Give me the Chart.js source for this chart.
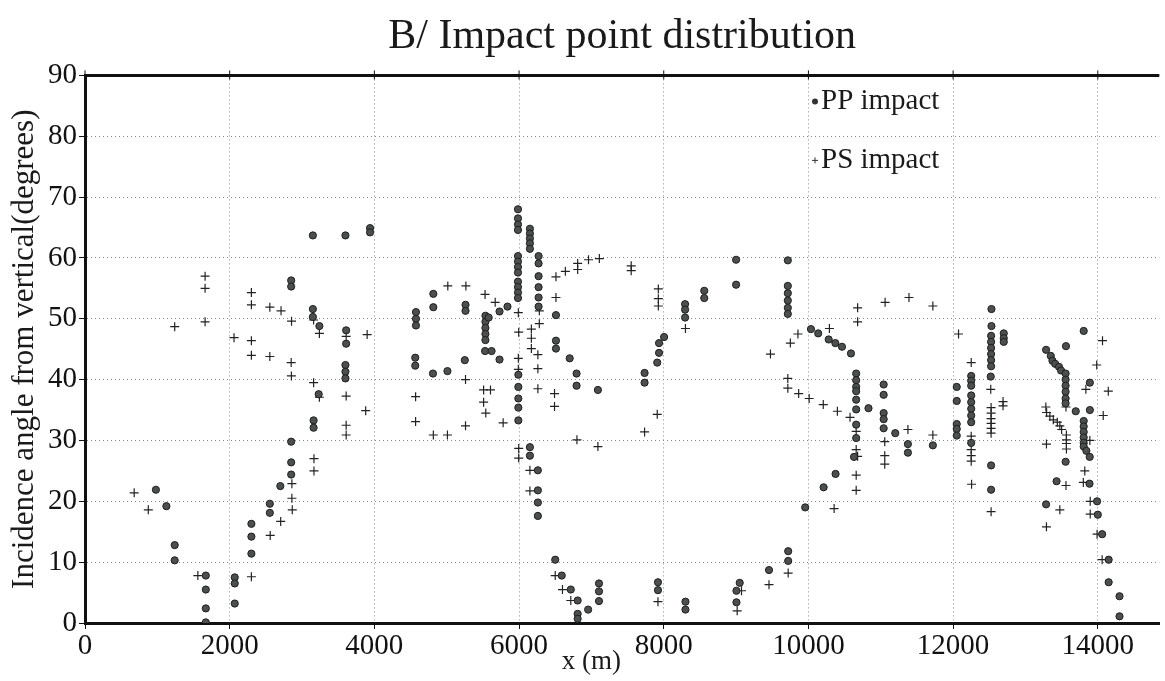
<!DOCTYPE html>
<html lang="en">
<head>
<meta charset="UTF-8">
<title>B/ Impact point distribution</title>
<script src="https://cdn.jsdelivr.net/npm/chart.js"></script>
<style>
    body { margin: 0; background: #fff; }
    #chart { display: block; }
</style>
</head>
<body>
<canvas id="chart" width="1165" height="681"></canvas>
<script>
    // [x (m), incidence angle (deg)]
    const ppImpact = [
        [980, 21.9], [1125, 19.2], [1240, 12.8], [1240, 10.3],
        [1670, 7.8], [1670, 5.5], [1670, 2.4], [1670, 0.1],
        [2070, 7.5], [2070, 6.5], [2070, 3.2],
        [2300, 16.3], [2300, 14.2], [2300, 11.4],
        [2555, 19.6], [2555, 18.1], [2700, 22.5],
        [2850, 29.8], [2850, 26.4], [2850, 24.4], [2850, 56.3], [2850, 55.3],
        [3150, 63.7], [3600, 63.7], [3940, 64.9], [3940, 64.2],
        [3150, 51.6], [3150, 50.3], [3240, 48.8], [3610, 48.1], [3610, 45.9],
        [3600, 42.4], [3600, 41.3], [3600, 40.2], [3230, 37.6], [3160, 33.3], [3160, 32.1],
        [4575, 51.1], [4575, 50.0], [4575, 48.9], [4565, 43.6], [4565, 42.3],
        [4810, 41.0], [4815, 54.1], [4815, 51.9], [5010, 41.4], [5250, 43.2],
        [5260, 52.3], [5260, 51.3],
        [5535, 50.5], [5535, 49.5], [5535, 48.5], [5535, 47.5], [5535, 46.5], [5580, 50.2],
        [5530, 44.7], [5620, 44.7], [5730, 43.3], [5730, 51.2], [5840, 52.0],
        [5985, 68.0], [5985, 66.5], [5985, 65.5], [5985, 64.6],
        [5985, 60.3], [5985, 59.4], [5985, 58.5], [5985, 57.6],
        [5985, 56.1], [5985, 55.2], [5985, 54.3], [5985, 53.4],
        [5990, 40.8], [5990, 38.8], [5990, 36.9], [5990, 35.4], [5990, 33.3],
        [6150, 64.8], [6150, 64.0], [6150, 63.2], [6150, 62.4], [6150, 61.5],
        [6150, 28.9], [6150, 27.5],
        [6270, 60.3], [6270, 59.1], [6270, 57.0], [6270, 55.2], [6270, 53.5], [6270, 52.0],
        [6260, 25.1], [6260, 21.8], [6260, 19.8], [6260, 17.6],
        [6510, 50.6], [6510, 46.4], [6510, 45.1],
        [6500, 10.4], [6590, 7.8], [6715, 5.5], [6810, 3.7], [6810, 1.5], [6810, 0.7],
        [6955, 2.2], [7105, 6.5], [7105, 5.2], [7105, 3.6],
        [6700, 43.5], [6795, 41.0], [6795, 39.0], [7090, 38.3],
        [7735, 41.1], [7735, 39.5], [7910, 42.8], [7935, 44.4], [7935, 46.0], [8005, 47.0],
        [7920, 6.7], [7920, 5.4], [8300, 3.5], [8300, 2.2],
        [8295, 52.4], [8295, 51.5], [8295, 50.2], [8560, 54.6], [8560, 53.4],
        [9000, 59.7], [9000, 55.6],
        [9050, 6.6], [9005, 5.3], [9005, 3.4], [9455, 8.7], [9720, 11.8], [9720, 10.2],
        [9955, 19.0], [10210, 22.3], [10375, 24.5],
        [9715, 59.6], [9715, 55.4], [9715, 54.2], [9715, 53.0], [9715, 51.8], [9715, 50.8],
        [10035, 48.3], [10135, 47.6], [10280, 46.6], [10372, 46.0], [10464, 45.4], [10588, 44.3],
        [10660, 41.0], [10660, 39.9], [10660, 38.8], [10660, 38.1], [10660, 36.7],
        [10660, 35.1], [10660, 32.6], [10660, 30.4], [10630, 27.3], [10830, 35.3],
        [11040, 39.2], [11040, 37.5], [11040, 34.5], [11040, 33.5], [11040, 32.0],
        [11200, 31.2], [11375, 29.4], [11375, 28.0], [11720, 29.2],
        [12050, 38.8], [12050, 36.5], [12050, 32.7], [12050, 31.9], [12050, 30.8],
        [12250, 40.6], [12250, 39.8], [12250, 39.0], [12250, 37.4], [12250, 36.3],
        [12250, 35.2], [12250, 34.1], [12250, 33.0], [12250, 29.6],
        [12530, 51.6], [12530, 48.8], [12525, 47.2], [12525, 46.2], [12525, 45.2],
        [12525, 44.2], [12525, 43.2], [12525, 42.2], [12520, 40.5], [12525, 25.9], [12525, 21.9],
        [12700, 47.6], [12700, 46.8], [12700, 46.2],
        [13285, 44.9], [13350, 43.9], [13373, 43.1], [13410, 42.6], [13464, 42.1], [13492, 41.5],
        [13560, 45.5], [13805, 48.0],
        [13555, 41.0], [13555, 40.0], [13555, 39.0], [13555, 38.0], [13555, 36.9], [13555, 36.1],
        [13695, 34.8], [13890, 35.0], [13890, 39.5],
        [13805, 33.2], [13805, 32.3], [13805, 31.4], [13805, 30.5], [13805, 29.6],
        [13805, 29.0], [13842, 28.3], [13888, 27.3],
        [13555, 26.5], [13430, 23.3], [13285, 19.5], [13885, 22.9],
        [13990, 20.0], [14000, 17.8], [14060, 14.6], [14150, 10.4], [14150, 6.7],
        [14300, 4.4], [14300, 1.1]
    ];

    const psImpact = [
        [680, 21.4], [875, 18.6], [1560, 7.8], [1240, 48.7],
        [1660, 57.0], [1660, 55.0], [1660, 49.5],
        [2060, 46.9], [2300, 54.3], [2300, 52.3], [2300, 46.4], [2300, 44.0], [2300, 7.6],
        [2555, 51.9], [2555, 43.8], [2710, 51.3], [2855, 49.6], [2850, 42.8], [2853, 40.6],
        [2860, 22.9], [2860, 20.5], [2865, 18.6], [2705, 16.7], [2560, 14.4],
        [3160, 49.8], [3240, 47.6], [3610, 47.1], [3160, 39.5], [3240, 37.1], [3610, 37.3],
        [3610, 32.5], [3610, 30.9], [3165, 27.0], [3165, 25.0],
        [3900, 47.4], [3880, 34.9],
        [4570, 37.2], [4570, 33.1], [4815, 30.9], [5010, 30.9], [5015, 55.4], [5265, 55.4],
        [5260, 40.0], [5260, 32.4], [5510, 38.3], [5605, 38.3], [5510, 36.3], [5540, 34.5],
        [5780, 32.9], [5530, 54.0], [5670, 52.7],
        [5990, 51.0], [5995, 47.8], [5990, 43.5], [5990, 41.7], [5995, 28.7], [5995, 27.1],
        [6170, 48.3], [6170, 46.8], [6170, 45.1], [6150, 25.1], [6150, 21.7],
        [6280, 51.3], [6280, 49.2], [6260, 44.1], [6260, 41.8], [6260, 38.5],
        [6510, 56.9], [6510, 53.5], [6490, 37.7], [6490, 35.6], [6640, 57.8],
        [6810, 59.1], [6810, 58.1], [6960, 59.7], [7110, 59.9], [7550, 58.7], [7550, 57.9],
        [6800, 30.1], [7090, 29.0], [6500, 7.8], [6600, 5.5], [6715, 3.7],
        [7925, 54.9], [7925, 53.3], [7925, 52.1], [7910, 34.3], [7735, 31.4], [7920, 3.5], [8300, 48.4],
        [9075, 5.3], [9015, 2.0], [9455, 6.3], [9720, 8.2],
        [9475, 44.2], [9750, 46.0], [9855, 47.5], [9715, 40.2], [9715, 38.6], [9865, 37.7],
        [10010, 36.9], [10205, 35.9], [10400, 34.8], [10575, 33.8], [10355, 18.8],
        [10290, 48.4], [10680, 51.8], [10680, 49.5], [11060, 52.7], [11390, 53.5], [11720, 52.1],
        [12075, 47.5],
        [10660, 31.5], [10660, 28.5], [10680, 27.4], [10660, 24.3], [10660, 21.8],
        [11055, 29.8], [11055, 27.5], [11055, 26.1], [11375, 31.8], [11720, 30.9],
        [12250, 42.8], [12250, 30.7], [12250, 28.5], [12250, 27.5], [12250, 26.6], [12255, 22.8],
        [12520, 38.4], [12525, 35.4], [12525, 34.5], [12525, 33.6], [12525, 32.8], [12525, 32.0],
        [12525, 31.2], [12525, 18.3], [12690, 36.4], [12690, 35.7],
        [13282, 35.5], [13292, 34.6], [13337, 34.0], [13385, 33.4], [13440, 33.0], [13475, 32.4],
        [13500, 31.8], [13566, 30.9], [13566, 30.1], [13566, 29.5], [13566, 28.6],
        [13290, 29.4], [13290, 15.8], [13475, 18.6], [13560, 22.6], [13560, 35.5],
        [13835, 38.4], [13985, 42.4], [14145, 38.1], [14075, 34.1], [13890, 30.0],
        [13820, 25.0], [13800, 23.1], [13895, 20.0], [13895, 17.9], [13990, 14.6], [14060, 10.4],
        [14065, 46.4]
    ];

    const xTicks = [0, 2000, 4000, 6000, 8000, 10000, 12000, 14000];
    const yTicks = [0, 10, 20, 30, 40, 50, 60, 70, 80, 90];

    const serif = "'Liberation Serif', 'DejaVu Serif', serif";

    const toXY = pts => pts.map(p => ({ x: p[0], y: p[1] }));

    // frame line on top, legend inside the plot, x title
    const extras = {
        id: 'extras',
        afterDraw(chart) {
            const { ctx, chartArea, scales } = chart;
            ctx.save();
            ctx.strokeStyle = '#111';
            ctx.lineWidth = 3;
            ctx.beginPath();
            ctx.moveTo(chartArea.left - 1, chartArea.top);
            ctx.lineTo(chartArea.right, chartArea.top);
            ctx.stroke();
            ctx.lineWidth = 1;
            xTicks.forEach(v => {
                const px = scales.x.getPixelForValue(v);
                ctx.beginPath();
                ctx.moveTo(px, chartArea.top - 5);
                ctx.lineTo(px, chartArea.top + 4);
                ctx.stroke();
            });

            // legend
            const lx = chartArea.left + 730;
            const rows = [chartArea.top + 26, chartArea.top + 85];
            ctx.font = '29px ' + serif;
            ctx.textBaseline = 'middle';
            chart.data.datasets.forEach((ds, i) => {
                const y = rows[i];
                if (i === 0) {
                    ctx.beginPath();
                    ctx.fillStyle = '#333';
                    ctx.arc(lx, y, 3, 0, Math.PI * 2);
                    ctx.fill();
                } else {
                    ctx.strokeStyle = '#333';
                    ctx.lineWidth = 1;
                    ctx.beginPath();
                    ctx.moveTo(lx - 3, y); ctx.lineTo(lx + 3, y);
                    ctx.moveTo(lx, y - 3); ctx.lineTo(lx, y + 3);
                    ctx.stroke();
                }
                ctx.fillStyle = '#1a1a1a';
                ctx.fillText(ds.label, lx + 6, y);
            });

            // x axis title, centred on 7000 m as in the figure
            ctx.textAlign = 'center';
            ctx.font = '27px ' + serif;
            ctx.fillText('x (m)', scales.x.getPixelForValue(7000), chartArea.bottom + 39);
            ctx.restore();
        }
    };

    new Chart(document.getElementById('chart'), {
        type: 'scatter',
        data: {
            datasets: [
                {
                    label: 'PP impact',
                    data: toXY(ppImpact),
                    pointStyle: 'circle',
                    pointRadius: 3.6,
                    backgroundColor: '#4b504d',
                    borderColor: '#1e1e1e',
                    borderWidth: 1
                },
                {
                    label: 'PS impact',
                    data: toXY(psImpact),
                    pointStyle: 'cross',
                    pointRadius: 4.5,
                    borderColor: '#222',
                    borderWidth: 1.2
                }
            ]
        },
        options: {
            responsive: false,
            animation: false,
            layout: { padding: { left: 0, right: 0, top: 0, bottom: 0 } },
            plugins: {
                legend: { display: false },
                tooltip: { enabled: false },
                title: {
                    display: true,
                    fullSize: false,
                    text: 'B/ Impact point distribution',
                    color: '#1a1a1a',
                    font: { family: serif, size: 42, weight: 'normal' },
                    padding: { top: 12, bottom: 13 }
                }
            },
            scales: {
                x: {
                    type: 'linear',
                    min: 0,
                    max: 14850,
                    afterBuildTicks: scale => {
                        scale.ticks = xTicks.map(v => ({ value: v }));
                    },
                    afterFit: scale => { scale.height = 58; },
                    ticks: {
                        color: '#111',
                        font: { family: serif, size: 29 },
                        padding: 0,
                        maxRotation: 0,
                        callback: v => String(v)
                    },
                    grid: { color: '#8a8a8a', tickColor: '#111', tickLength: 6, lineWidth: 1 },
                    border: { color: '#111', width: 3, dash: [1, 3] }
                },
                y: {
                    min: 0,
                    max: 90,
                    afterBuildTicks: scale => {
                        scale.ticks = yTicks.map(v => ({ value: v }));
                    },
                    afterFit: scale => { scale.width = 85; },
                    ticks: {
                        color: '#111',
                        font: { family: serif, size: 29 },
                        padding: 2
                    },
                    grid: { color: '#8a8a8a', tickColor: '#111', tickLength: 6, lineWidth: 1 },
                    border: { color: '#111', width: 3, dash: [1, 3] },
                    title: {
                        display: true,
                        text: 'Incidence angle from vertical(degrees)',
                        color: '#1a1a1a',
                        font: { family: serif, size: 31 },
                        padding: { top: 6, bottom: 0 }
                    }
                }
            }
        },
        plugins: [extras]
    });
</script>
</body>
</html>
